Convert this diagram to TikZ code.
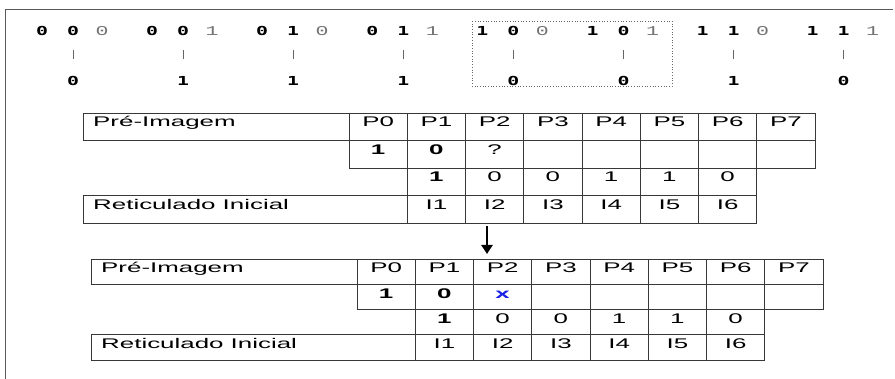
\documentclass[tikz,border=0pt]{standalone}
\usepackage{graphicx}
\usepackage{fontspec}
\setmainfont{Liberation Sans}
\newfontfamily\tabfont{Liberation Sans}
\newfontfamily\digfont{DejaVu Sans Mono}
\newfontfamily\litefont{Liberation Mono}
\newcommand\Wt[1]{\scalebox{1.85}[1]{#1}}
\newcommand\Wd[1]{\scalebox{1.6}[1]{#1}}
\usetikzlibrary{arrows.meta,calc}
\definecolor{xblue}{RGB}{20,30,230}
\begin{document}
\begin{tikzpicture}[x=1pt,y=-1pt,
  tl/.style={draw=black!78,line width=0.9pt},
  frameline/.style={draw=black!65,line width=0.9pt},
  txt/.style={font=\tabfont\fontsize{14}{16}\selectfont,anchor=base,inner sep=0pt,text=black},
  ltxt/.style={txt,anchor=base west},
  btxt/.style={txt,font=\tabfont\fontsize{14}{16}\selectfont\bfseries},
  bdig/.style={font=\digfont\fontsize{12.4}{14}\selectfont\bfseries,anchor=base,inner sep=0pt},
  ldig/.style={font=\litefont\fontsize{13.5}{14}\selectfont,anchor=base,inner sep=0pt,text=black!55},
  bar/.style={draw=black!60,line width=0.9pt},
  selbox/.style={draw=black!60,dotted,line width=0.7pt},
  bigarrow/.style={line width=2.8pt,-{Triangle[width=11pt,length=9pt]}}]
\useasboundingbox (0,0) rectangle (895,379);
% outer frame (top and left edges)
\draw[frameline] (893,9) -- (5,9) -- (5,379);
% top: neighbourhoods and resulting bits
\foreach \k/\a/\b/\c/\r in {0/0/0/0/0,1/0/0/1/1,2/0/1/0/1,3/0/1/1/1,4/1/0/0/0,5/1/0/1/0,6/1/1/0/1,7/1/1/1/0}{
  \node[bdig] (da\k) at (42+110.1*\k,36) {\Wd{\a}};
  \node[bdig] (db\k) at (73+110.1*\k,36) {\Wd{\b}};
  \node[ldig] (dc\k) at (102+110.1*\k,36) {\Wd{\c}};
  \node[bdig] (r\k) at (73+110.1*\k,86) {\Wd{\r}};
  \draw[bar] ($(db\k.base)+(0,14)$) -- ($(r\k.base)+(0,-27)$);
}
\draw[selbox] (472,21) rectangle (672,86);
% tables
\foreach \pre/\xL/\xo/\yo/\rh in {a/83/349/113/27.5, b/91/357/259/25.25}{
  \pgfmathsetmacro\cw{58.25}
  % row 1
  \draw[tl] (\xL,\yo) rectangle (\xo+8*\cw,\yo+\rh);
  \foreach \i in {0,...,7}{\draw[tl] (\xo+\i*\cw,\yo) -- (\xo+\i*\cw,\yo+\rh);}
  % row 2
  \draw[tl] (\xo,\yo+\rh) rectangle (\xo+8*\cw,\yo+2*\rh);
  \foreach \i in {1,...,7}{\draw[tl] (\xo+\i*\cw,\yo+\rh) -- (\xo+\i*\cw,\yo+2*\rh);}
  % row 3
  \draw[tl] (\xo+\cw,\yo+2*\rh) rectangle (\xo+7*\cw,\yo+3*\rh);
  \foreach \i in {2,...,6}{\draw[tl] (\xo+\i*\cw,\yo+2*\rh) -- (\xo+\i*\cw,\yo+3*\rh);}
  % row 4
  \draw[tl] (\xL,\yo+3*\rh) rectangle (\xo+7*\cw,\yo+4*\rh);
  \foreach \i in {1,...,6}{\draw[tl] (\xo+\i*\cw,\yo+3*\rh) -- (\xo+\i*\cw,\yo+4*\rh);}
  % texts
  \node[ltxt] (\pre pre) at (\xL+10,\yo+14) {\Wt{Pré-Imagem}};
  \foreach \i in {0,...,7}{\node[txt] (\pre p\i) at (\xo+\i*\cw+\cw/2,\yo+14) {\Wt{P\i}};}
  \node[btxt] (\pre s0) at (\xo+0.5*\cw,\yo+\rh+14) {\Wt{1}};
  \node[btxt] (\pre s1) at (\xo+1.5*\cw,\yo+\rh+14) {\Wt{0}};
  \node[btxt] (\pre t1) at (\xo+1.5*\cw,\yo+2*\rh+14) {\Wt{1}};
  \foreach \i/\v in {2/0,3/0,4/1,5/1,6/0}{\node[txt] (\pre t\i) at (\xo+\i*\cw+\cw/2,\yo+2*\rh+14) {\Wt{\v}};}
  \node[ltxt] (\pre ret) at (\xL+10,\yo+3*\rh+14) {\Wt{Reticulado Inicial}};
  \foreach \i in {1,...,6}{\node[txt] (\pre i\i) at (\xo+\i*\cw+\cw/2,\yo+3*\rh+14) {\Wt{I\i}};}
}
\node[txt] (as2) at (349+2.5*58.25,113+27.5+14) {\Wt{?}};
\node[btxt,text=xblue] (bs2) at (357+2.5*58.25,259+25.25+14) {\Wt{x}};
% arrow between the tables
\coordinate (arS) at (487,226);
\coordinate (arE) at (487,254);
\draw[bigarrow] (arS) -- (arE);
\end{tikzpicture}
\end{document}
